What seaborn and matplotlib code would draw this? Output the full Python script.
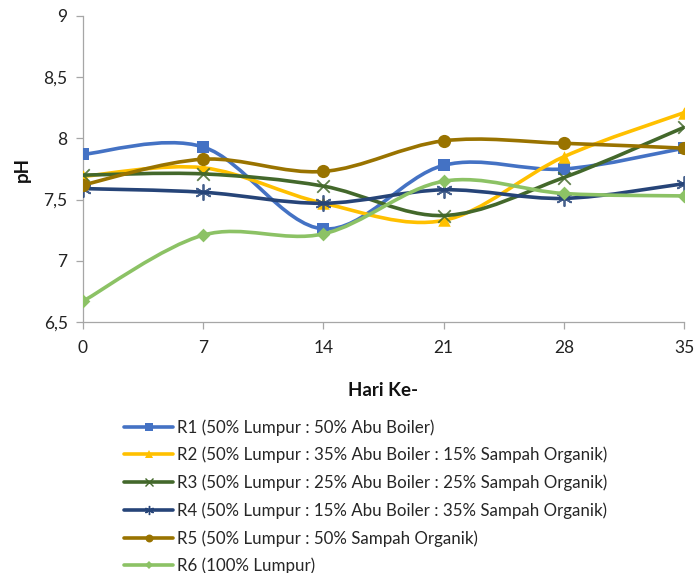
"""
pH per hari - kurva halus ala Excel
"""

import numpy as np
import pandas as pd
import matplotlib
matplotlib.use("Agg")
import matplotlib.pyplot as plt
from matplotlib.path import Path
from matplotlib.patches import PathPatch
from matplotlib.lines import Line2D
from matplotlib.ticker import FuncFormatter
import seaborn as sns

# === Data ===
days = [0, 7, 14, 21, 28, 35]

r1 = [7.87, 7.93, 7.26, 7.78, 7.75, 7.92]
r2 = [7.69, 7.76, 7.47, 7.33, 7.85, 8.21]
r3 = [7.70, 7.71, 7.61, 7.37, 7.68, 8.09]
r4 = [7.59, 7.56, 7.47, 7.58, 7.51, 7.63]
r5 = [7.62, 7.83, 7.73, 7.98, 7.96, 7.92]
r6 = [6.67, 7.21, 7.22, 7.65, 7.55, 7.53]

labels = [
    "R1 (50% Lumpur : 50% Abu Boiler)",
    "R2 (50% Lumpur : 35% Abu Boiler : 15% Sampah Organik)",
    "R3 (50% Lumpur : 25% Abu Boiler : 25% Sampah Organik)",
    "R4 (50% Lumpur : 15% Abu Boiler : 35% Sampah Organik)",
    "R5 (50% Lumpur : 50% Sampah Organik)",
    "R6 (100% Lumpur)",
]
series = [r1, r2, r3, r4, r5, r6]

# === Styles ===
colors = ["#4472C4", "#FFC000", "#43682B", "#264478", "#997300", "#8CC265"]
markers = ["s", "^", "x", (6, 2, 0), "o", "D"]
msizes = [9, 9, 9, 11, 9.5, 7]

sns.set_theme(style="white")
plt.rcParams["font.family"] = ["Lato", "DejaVu Sans"]


def smooth_path(xs, ys):
    # Catmull-Rom -> cubic bezier, sama seperti garis "smoothed" di Excel
    pts = np.column_stack([xs, ys]).astype(float)
    verts = [pts[0]]
    codes = [Path.MOVETO]
    n = len(pts)
    for i in range(n - 1):
        p0 = pts[i - 1] if i > 0 else pts[i]
        p1 = pts[i]
        p2 = pts[i + 1]
        p3 = pts[i + 2] if i + 2 < n else pts[i + 1]
        c1 = p1 + (p2 - p0) / 6.0
        c2 = p2 - (p3 - p1) / 6.0
        verts += [c1, c2, p2]
        codes += [Path.CURVE4] * 3
    return Path(verts, codes)


fig = plt.figure(figsize=(6.94, 5.73), dpi=100)
ax = fig.add_axes([83 / 694, 1 - 322 / 573, (684 - 83) / 694, (322 - 16) / 573])

handles = []
for k, (vals, lab, col, mk, ms) in enumerate(zip(series, labels, colors, markers, msizes)):
    df = pd.DataFrame({"day": days, "ph": vals})
    patch = PathPatch(smooth_path(days, vals), facecolor="none", edgecolor=col,
                      lw=2.6, zorder=2 + 2 * k, capstyle="round", joinstyle="round")
    ax.add_patch(patch)
    thin = mk in ("x", (6, 2, 0))
    sns.scatterplot(data=df, x="day", y="ph", ax=ax, marker=mk, s=ms ** 2,
                    color=col, edgecolor=col if not thin else None,
                    linewidth=1.3 if thin else 0, zorder=3 + 2 * k, legend=False,
                    alpha=0.85 if thin else 1)
    handles.append(Line2D([0], [0], color=col, lw=2.6, marker=mk,
                          markersize=ms * 0.6, markeredgewidth=1 if thin else 0))

ax.set_xlim(0, 35)
ax.set_ylim(6.5, 9)
ax.set_xticks(days)
ax.set_yticks([6.5, 7, 7.5, 8, 8.5, 9])
ax.yaxis.set_major_formatter(FuncFormatter(lambda v, p: f"{v:g}".replace(".", ",")))

for s in ["top", "right"]:
    ax.spines[s].set_visible(False)
for s in ["left", "bottom"]:
    ax.spines[s].set_color("#A6A6A6")
    ax.spines[s].set_linewidth(0.9)
ax.tick_params(axis="both", which="major", direction="out", length=5, width=0.9,
               color="#A6A6A6", labelsize=12.5, labelcolor="#222222", pad=6)
ax.tick_params(axis="y", left=True)
ax.tick_params(axis="x", bottom=True, pad=8)

ax.set_xlabel("Hari Ke-", fontsize=13.5, fontweight="bold", labelpad=19, color="#111111")
ax.set_ylabel("pH", fontsize=13.5, fontweight="bold", labelpad=9, color="#111111")

fig.legend(handles, labels, loc="upper left", bbox_to_anchor=(124 / 694, 1 - 419 / 573),
           frameon=False, fontsize=12.2, handlelength=2.9, handletextpad=0.25,
           labelspacing=0.66, borderpad=0, borderaxespad=0)

plt.savefig("out.png", dpi=100)
plt.close()
